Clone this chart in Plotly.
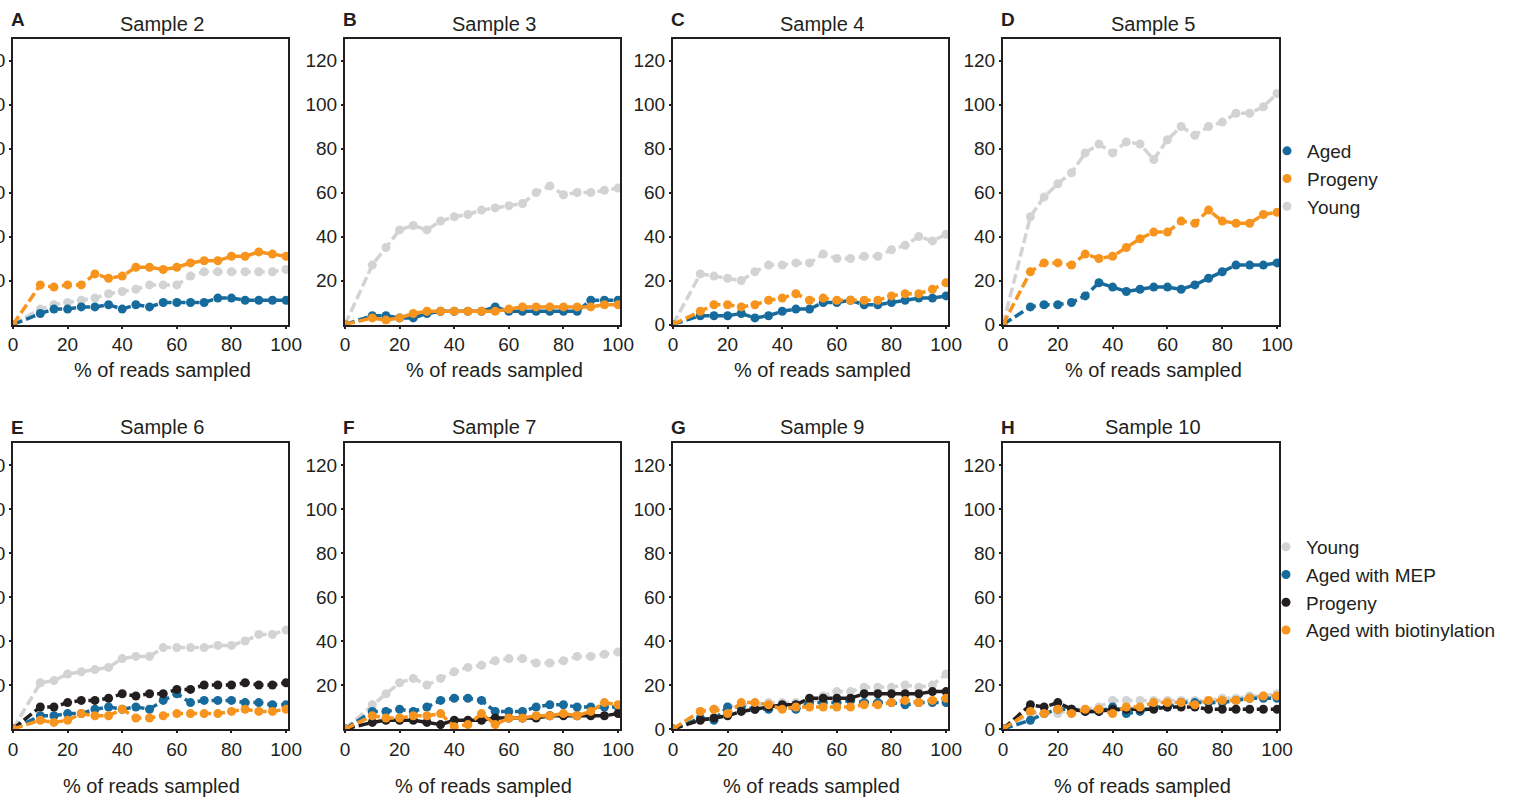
import plotly.graph_objects as go

W, H = 1513, 802

# ---------------- data ----------------
pct_reads = [0, 10, 15, 20, 25, 30, 35, 40, 45, 50, 55, 60, 65, 70, 75, 80, 85, 90, 95, 100]

# Row 1 samples: Aged / Progeny / Young
s2_aged    = [0, 5, 7, 7, 8, 8, 9, 7, 9, 8, 10, 10, 10, 10, 12, 12, 11, 11, 11, 11]
s2_progeny = [0, 18, 17, 18, 18, 23, 21, 22, 26, 26, 25, 26, 28, 29, 29, 31, 31, 33, 32, 31]
s2_young   = [0, 7, 9, 10, 11, 12, 14, 15, 16, 18, 18, 18, 22, 24, 24, 24, 24, 24, 24, 25]

s3_aged    = [0, 4, 4, 3, 3, 5, 6, 6, 6, 6, 8, 6, 6, 6, 6, 6, 6, 11, 11, 11]
s3_progeny = [0, 3, 2, 3, 5, 6, 6, 6, 6, 6, 6, 7, 8, 8, 8, 8, 8, 8, 9, 9]
s3_young   = [0, 27, 35, 43, 45, 43, 47, 49, 50, 52, 53, 54, 55, 60, 63, 59, 60, 60, 61, 62]

s4_aged    = [0, 4, 4, 4, 5, 3, 4, 6, 7, 7, 10, 10, 11, 9, 9, 10, 11, 12, 12, 13]
s4_progeny = [0, 6, 9, 9, 8, 9, 11, 12, 14, 11, 12, 11, 11, 11, 11, 13, 14, 14, 16, 19]
s4_young   = [0, 23, 22, 21, 20, 24, 27, 27, 28, 28, 32, 30, 30, 31, 31, 34, 36, 40, 38, 41]

s5_aged    = [0, 8, 9, 9, 10, 13, 19, 17, 15, 16, 17, 17, 16, 18, 21, 24, 27, 27, 27, 28]
s5_progeny = [0, 24, 28, 28, 27, 32, 30, 31, 35, 39, 42, 42, 47, 46, 52, 47, 46, 46, 50, 51]
s5_young   = [0, 49, 58, 64, 69, 78, 82, 78, 83, 82, 75, 84, 90, 86, 90, 92, 96, 96, 99, 105]

# Row 2 samples: Young / Aged with MEP / Progeny / Aged with biotinylation
s6_young   = [0, 21, 22, 25, 26, 27, 28, 32, 33, 33, 37, 37, 37, 37, 38, 38, 40, 43, 43, 45]
s6_mep     = [0, 6, 6, 7, 7, 9, 10, 9, 10, 9, 13, 16, 12, 13, 13, 13, 12, 12, 11, 11]
s6_progeny = [0, 10, 10, 12, 13, 13, 14, 16, 15, 16, 16, 18, 18, 20, 20, 20, 21, 20, 20, 21]
s6_bio     = [0, 4, 3, 4, 7, 6, 6, 9, 5, 5, 6, 7, 7, 7, 7, 8, 9, 8, 8, 9]

s7_young   = [0, 11, 16, 21, 23, 20, 23, 26, 28, 29, 31, 32, 32, 30, 30, 31, 33, 33, 34, 35]
s7_mep     = [0, 8, 8, 9, 8, 10, 13, 14, 14, 13, 8, 8, 8, 10, 11, 11, 10, 10, 10, 10]
s7_progeny = [0, 3, 4, 4, 4, 3, 2, 4, 4, 4, 5, 5, 5, 5, 6, 6, 6, 6, 6, 7]
s7_bio     = [0, 6, 5, 5, 6, 6, 7, 1, 2, 7, 2, 5, 5, 6, 6, 7, 6, 8, 12, 11]

s9_young   = [0, 8, 9, 10, 11, 11, 12, 12, 12, 12, 15, 17, 17, 19, 19, 19, 20, 19, 20, 25]
s9_mep     = [0, 5, 4, 10, 10, 9, 9, 10, 9, 12, 12, 12, 13, 12, 12, 12, 11, 12, 12, 12]
s9_progeny = [0, 4, 5, 6, 8, 9, 10, 11, 11, 14, 14, 14, 14, 16, 16, 16, 16, 16, 17, 17]
s9_bio     = [0, 8, 9, 7, 12, 12, 11, 9, 10, 10, 10, 10, 10, 11, 11, 12, 13, 12, 13, 14]

s10_young   = [0, 7, 7, 7, 9, 9, 10, 13, 13, 13, 13, 13, 13, 13, 13, 14, 14, 15, 15, 16]
s10_mep     = [0, 4, 7, 9, 9, 8, 8, 10, 7, 8, 10, 10, 12, 12, 12, 12, 13, 14, 14, 14]
s10_progeny = [0, 11, 10, 12, 9, 8, 8, 9, 9, 9, 9, 10, 10, 10, 9, 9, 9, 9, 9, 9]
s10_bio     = [0, 8, 7, 9, 7, 9, 9, 7, 10, 10, 12, 12, 12, 11, 13, 13, 13, 14, 15, 15]

panel_letters = ["A", "B", "C", "D", "E", "F", "G", "H"]
panel_titles = ["Sample 2", "Sample 3", "Sample 4", "Sample 5",
                "Sample 6", "Sample 7", "Sample 9", "Sample 10"]
x_ticks = [0, 20, 40, 60, 80, 100]
y_ticks_full = [0, 20, 40, 60, 80, 100, 120]
y_ticks_nozero = [20, 40, 60, 80, 100, 120]
x_title = "% of reads sampled"

# ---------------- styles ----------------
GRAY = "#d1d3d4"
BLUE = "#176b9c"
ORANGE = "#f7941d"
BLACK = "#231f20"
FONT = "Arial, Liberation Sans, sans-serif"

row1_series = [  # drawing order
    ("Young", GRAY), ("Aged", BLUE), ("Progeny", ORANGE)]
row2_series = [
    ("Young", GRAY), ("Aged with MEP", BLUE), ("Progeny", BLACK), ("Aged with biotinylation", ORANGE)]

panel_data = [
    [s2_young, s2_aged, s2_progeny],
    [s3_young, s3_aged, s3_progeny],
    [s4_young, s4_aged, s4_progeny],
    [s5_young, s5_aged, s5_progeny],
    [s6_young, s6_mep, s6_progeny, s6_bio],
    [s7_young, s7_mep, s7_progeny, s7_bio],
    [s9_young, s9_mep, s9_progeny, s9_bio],
    [s10_young, s10_mep, s10_progeny, s10_bio],
]

# pixel layout of plot areas
col_left = [13, 345, 673, 1003]
col_right = [288, 620, 948, 1279]
row_top = [38.5, 443]
row_bot = [324.5, 729]

fig = go.Figure()
layout = {}
annotations = []

for i in range(8):
    r, c = divmod(i, 4)
    n = i + 1
    xa = "x" if n == 1 else f"x{n}"
    ya = "y" if n == 1 else f"y{n}"
    series = row1_series if r == 0 else row2_series
    for (name, color), vals in zip(series, panel_data[i]):
        fig.add_trace(go.Scatter(
            x=pct_reads, y=vals, mode="lines+markers", name=name,
            line=dict(color=color, width=3.5, dash="10px,4px"),
            marker=dict(color=color, size=9),
            showlegend=False, xaxis=xa, yaxis=ya, hoverinfo="skip"))
    xd = [col_left[c] / W, col_right[c] / W]
    yd = [1 - row_bot[r] / H, 1 - row_top[r] / H]
    common = dict(showline=True, mirror=True, linewidth=2, linecolor=BLACK,
                  ticks="outside", ticklen=2, tickwidth=1.5, tickcolor=BLACK,
                  showgrid=False, zeroline=False, automargin=False,
                  tickfont=dict(family=FONT, size=19, color=BLACK))
    layout["xaxis" if n == 1 else f"xaxis{n}"] = dict(
        domain=xd, range=[0, 100.7], tickvals=x_ticks, anchor=ya, **common)
    yt = y_ticks_full if c >= 2 else y_ticks_nozero
    layout["yaxis" if n == 1 else f"yaxis{n}"] = dict(
        domain=yd, range=[0, 130], tickvals=yt, anchor=xa, **common)

    # panel letter
    annotations.append(dict(
        text=f"<b>{panel_letters[i]}</b>", x=(col_left[c] - 4) / W,
        y=1 - (19 if r == 0 else 427) / H, xref="paper", yref="paper",
        xanchor="left", yanchor="middle", showarrow=False,
        font=dict(family=FONT, size=19, color=BLACK)))
    # title
    cx = (col_left[c] + col_right[c]) / 2 + 12
    annotations.append(dict(
        text=panel_titles[i], x=cx / W, y=1 - (24 if r == 0 else 427) / H,
        xref="paper", yref="paper", xanchor="center", yanchor="middle",
        showarrow=False, font=dict(family=FONT, size=20, color=BLACK)))
    # x axis title
    tx = (col_left[c] + col_right[c]) / 2 + (12 if r == 0 else 1)
    annotations.append(dict(
        text=x_title, x=tx / W, y=1 - (370 if r == 0 else 786) / H,
        xref="paper", yref="paper", xanchor="center", yanchor="middle",
        showarrow=False, font=dict(family=FONT, size=20, color=BLACK)))

# legend entries (markers only)
legend1_order = [("Aged", BLUE), ("Progeny", ORANGE), ("Young", GRAY)]
legend2_order = [("Young", GRAY), ("Aged with MEP", BLUE), ("Progeny", BLACK),
                 ("Aged with biotinylation", ORANGE)]
for name, color in legend1_order:
    fig.add_trace(go.Scatter(x=[None], y=[None], mode="markers", name=name,
                             marker=dict(color=color, size=9), legend="legend",
                             xaxis="x4", yaxis="y4"))
for name, color in legend2_order:
    fig.add_trace(go.Scatter(x=[None], y=[None], mode="markers", name=name,
                             marker=dict(color=color, size=9), legend="legend2",
                             xaxis="x8", yaxis="y8"))

legend_common = dict(xanchor="left", yanchor="top", bgcolor="rgba(0,0,0,0)",
                     borderwidth=0, font=dict(family=FONT, size=19, color=BLACK),
                     tracegroupgap=0)

fig.update_layout(
    width=W, height=H,
    margin=dict(l=0, r=0, t=0, b=0),
    paper_bgcolor="white", plot_bgcolor="white",
    annotations=annotations,
    legend=dict(x=(1287 - 20) / W, y=1 - 132 / H, **legend_common),
    legend2=dict(x=(1286 - 20) / W, y=1 - 528 / H, **legend_common),
    **layout,
)

fig.write_html("out.html", config={"displayModeBar": False},
               post_script="document.body.style.margin='0';document.body.style.overflow='hidden';")
